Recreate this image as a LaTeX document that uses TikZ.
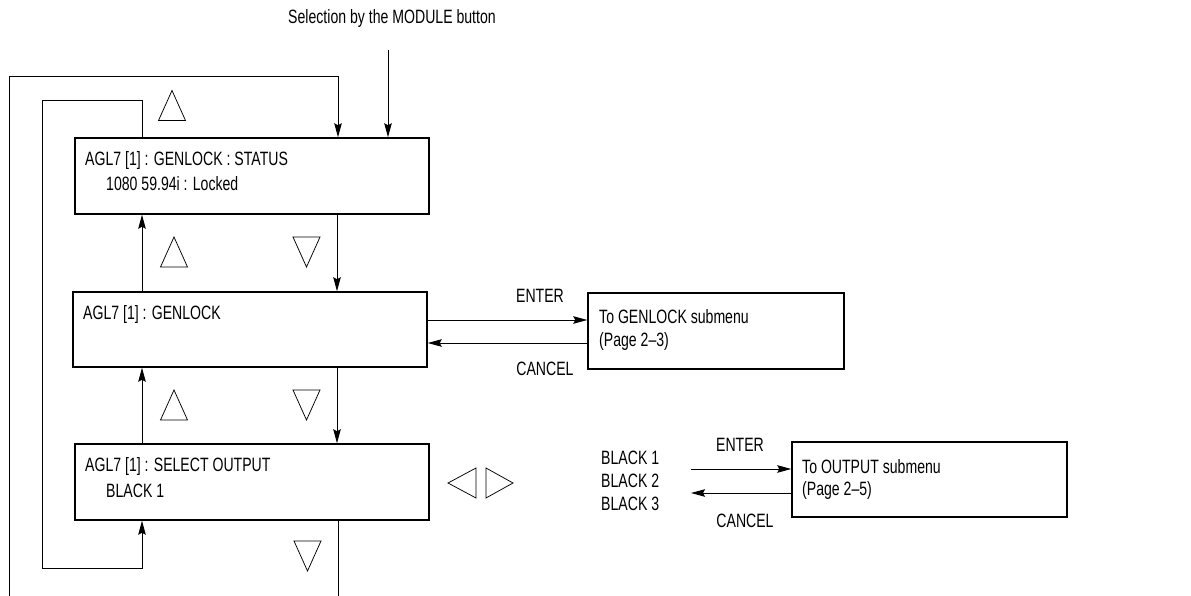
\documentclass[tikz,border=0pt]{standalone}
\usepackage{fontspec}
\setmainfont{Liberation Sans}[FakeStretch=0.73]
\usetikzlibrary{arrows.meta}
\begin{document}
\begin{tikzpicture}[x=1pt,y=-1pt,
  box/.style={draw, line width=1.5pt, minimum width=354pt, minimum height=76pt, inner sep=0pt},
  txt/.style={font=\fontsize{19.3}{21}\selectfont, inner sep=0pt, anchor=west},
  lbl/.style={font=\fontsize{19.3}{21}\selectfont, inner sep=0pt},
  conn/.style={line width=0.9pt, -{Stealth[length=14pt,width=7.5pt,inset=2pt]}},
  tri/.style={line width=0.75pt, line join=miter}]
\useasboundingbox (0,0) rectangle (1191,596);
\clip (0,0) rectangle (1191,596);
\fill[white] (0,0) rectangle (1191,596);

% boxes
\node[box] (st) at (252,176) {};
\node[box, minimum height=75pt] (gl) at (250,329.5) {};
\node[box] (so) at (252,482) {};
\node[box, minimum width=256pt] (gs) at (716,331) {};
\node[box, minimum width=275pt, minimum height=75pt] (os) at (929.5,479.5) {};

% texts
\node[lbl] (title) at (392,19) {Selection by the MODULE button};
\node[txt] (st1) at (85,161) {AGL7 [1] : GENLOCK : STATUS};
\node[txt] (st2) at (106,184) {1080 59.94i : Locked};
\node[txt] (gl1) at (83,315) {AGL7 [1] : GENLOCK};
\node[txt] (so1) at (85,467) {AGL7 [1] : SELECT OUTPUT};
\node[txt] (so2) at (106,491) {BLACK 1};
\node[txt] (gs1) at (599,317) {To GENLOCK submenu};
\node[txt] (gs2) at (599,342) {(Page 2–3)};
\node[txt] (os1) at (802,467) {To OUTPUT submenu};
\node[txt] (os2) at (802,491) {(Page 2–5)};
\node[txt] (bl1) at (601,458) {BLACK 1};
\node[txt] (bl2) at (601,481) {BLACK 2};
\node[txt] (bl3) at (601,504) {BLACK 3};
\node[lbl] (en1) at (540,296) {ENTER};
\node[lbl] (ca1) at (545,369) {CANCEL};
\node[lbl] (en2) at (740,445) {ENTER};
\node[lbl] (ca2) at (745,521) {CANCEL};

% triangles
\draw[tri] (172,105.5) ++(-13.5,15) -- ++(13.5,-30) -- ++(13.5,30) -- cycle;
\draw[tri] (174,252) ++(-13.5,15) -- ++(13.5,-30) -- ++(13.5,30) -- cycle;
\draw[tri] (174,405) ++(-13.5,15) -- ++(13.5,-30) -- ++(13.5,30) -- cycle;
\draw[tri] (306.5,252) ++(-13.5,-15) -- ++(13.5,30) -- ++(13.5,-30) -- cycle;
\draw[tri] (306.5,405) ++(-13.5,-15) -- ++(13.5,30) -- ++(13.5,-30) -- cycle;
\draw[tri] (307.5,556) ++(-13.5,-15) -- ++(13.5,30) -- ++(13.5,-30) -- cycle;
\draw[tri] (462,483) ++(14,-15) -- ++(-28,15) -- ++(28,15) -- cycle;
\draw[tri] (499.5,483) ++(-13.5,-15) -- ++(27,15) -- ++(-27,15) -- cycle;

% coordinates
\coordinate (xo) at (338,0);
\coordinate (xi) at (142,0);
\coordinate (xd) at (337,0);
\coordinate (m) at (388,50);
\coordinate (ye) at (0,320);
\coordinate (yc) at (0,343);
\coordinate (e2) at (691,469);
\coordinate (c2) at (691,493);

% connectors
\draw[conn] (m) -- (st.north -| m);
\draw[conn] (so.south -| xo) -- (338,620) -- (9,620) -- (9,76) -- (338,76) -- (st.north -| xo);
\draw[conn] (st.north -| xi) -- (142,100) -- (42,100) -- (42,568) -- (142,568) -- (so.south -| xi);
\draw[conn] (st.south -| xd) -- (gl.north -| xd);
\draw[conn] (gl.south -| xd) -- (so.north -| xd);
\draw[conn] (gl.north -| xi) -- (st.south -| xi);
\draw[conn] (so.north -| xi) -- (gl.south -| xi);
\draw[conn] (gl.east |- ye) -- (gs.west |- ye);
\draw[conn] (gs.west |- yc) -- (gl.east |- yc);
\draw[conn] (e2) -- (os.west |- e2);
\draw[conn] (os.west |- c2) -- (c2);
\end{tikzpicture}
\end{document}
